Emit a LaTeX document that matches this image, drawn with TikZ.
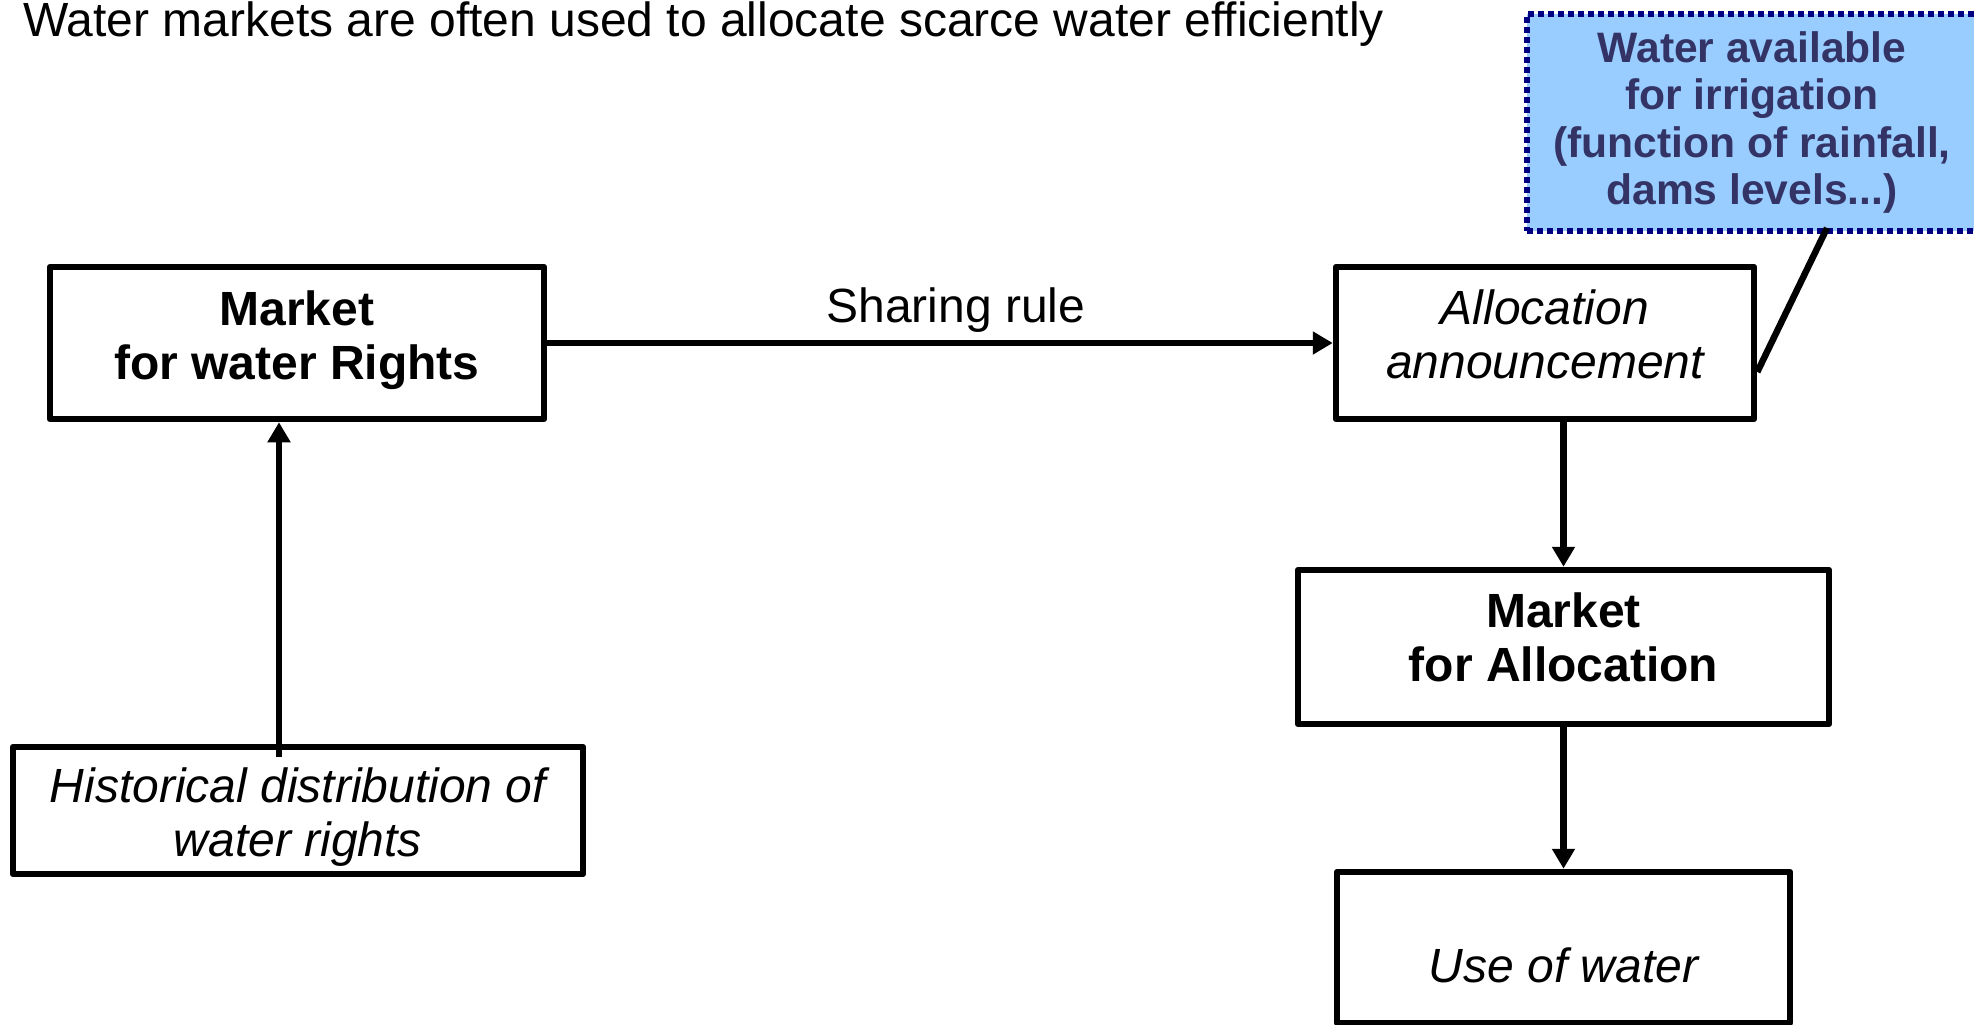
\documentclass[tikz,border=0pt]{standalone}
\usepackage{fontspec}
\setmainfont{Liberation Sans}
\usetikzlibrary{arrows.meta}
\definecolor{skyfill}{HTML}{99CCFF}
\definecolor{navyline}{HTML}{000080}
\definecolor{slatetext}{HTML}{333366}
\tikzset{
  boxnode/.style={draw=black, line width=6.5pt, fill=white, inner sep=0pt, line join=round},
  txt/.style={inner sep=0pt, align=center},
  bigfont/.style={font=\fontsize{48}{54}\selectfont},
  boldfont/.style={font=\fontsize{48}{54}\selectfont\bfseries},
  itfont/.style={font=\fontsize{48}{54}\selectfont\itshape},
  arr/.style={line width=6.5pt, -{Triangle[length=20pt,width=22pt]}},
  plainline/.style={line width=6.5pt, line cap=butt},
  bluebox/.style={draw=navyline, fill=skyfill, line width=6pt, dash pattern=on 6pt off 4pt,
    inner sep=0pt, align=center, text=slatetext, font=\fontsize{42.6}{47.5}\selectfont\bfseries},
}
\begin{document}
\begin{tikzpicture}[x=1pt,y=-1pt]
\useasboundingbox (0,0) rectangle (1974,1025);
\clip (0,0) rectangle (1974,1025);

\node[anchor=base west, inner sep=0pt, bigfont] (title) at (23,37) {Water markets are often used to allocate scarce water efficiently};

\node[bluebox, minimum width=450pt, minimum height=217pt] (blue) at (1752,122.5)
  {Water available\\for irrigation\\(function of rainfall,\\dams levels...)};

% boxes
\node[boxnode, minimum width=494pt, minimum height=152pt] (rights) at (297,343) {};
\node[boxnode, minimum width=570pt, minimum height=127pt] (hist) at (298,810.5) {};
\node[boxnode, minimum width=418pt, minimum height=152pt] (alloc) at (1545,343) {};
\node[boxnode, minimum width=531pt, minimum height=154pt] (malloc) at (1563.5,647) {};
\node[boxnode, minimum width=453pt, minimum height=151pt] (use) at (1563.5,947.5) {};

% box texts
\node[txt, boldfont, yshift=3pt] (rightsT) at (rights.center) {Market\\for water Rights};
\node[txt, itfont, yshift=-7pt] (histT) at (hist.center) {Historical distribution of\\water rights};
\node[txt, itfont, yshift=9pt] (allocT) at (alloc.center) {Allocation\\announcement};
\node[txt, boldfont, yshift=10pt] (mallocT) at (malloc.center) {Market\\for Allocation};
\node[txt, itfont, yshift=-18pt] (useT) at (use.center) {Use of water};

\node[anchor=base, inner sep=0pt, bigfont] (share) at (956,322) {Sharing rule};

% connectors
\draw[arr] (rights.east) -- (alloc.west);
\coordinate (ax) at (279,0);
\coordinate (hs) at ([yshift=-13pt]hist.north);
\draw[arr] (hs -| ax) -- (rights.south -| ax);
\draw[arr] (alloc.south -| malloc.north) -- (malloc.north);
\draw[arr] (malloc.south) -- (use.north);
\draw[plainline] ([xshift=75pt,yshift=6pt]blue.south) -- ([yshift=-29pt]alloc.east);
\end{tikzpicture}
\end{document}
